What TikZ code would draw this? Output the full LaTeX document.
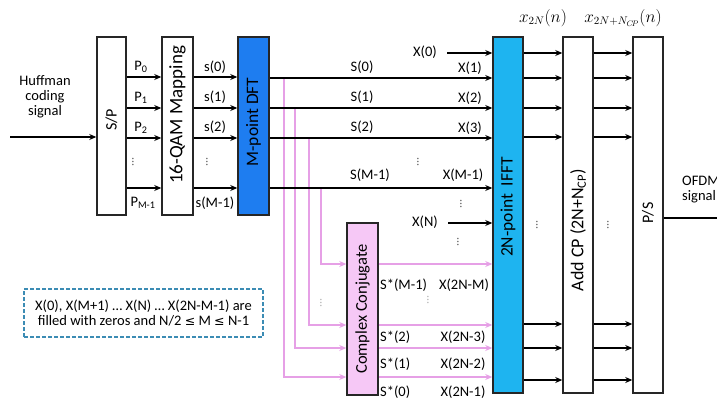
\documentclass[tikz,border=0pt]{standalone}
\usepackage{fontspec}
\setmainfont{Carlito}
\newfontfamily\djv{DejaVu Sans}
\usetikzlibrary{arrows.meta}
\definecolor{dftblue}{RGB}{30,125,240}
\definecolor{ifftblue}{RGB}{30,180,240}
\definecolor{ccpink}{RGB}{246,200,246}
\definecolor{pinkline}{RGB}{230,160,230}
\definecolor{dashblue}{RGB}{60,140,180}
\newcommand{\lesym}{{\djv\fontsize{12.5}{15}\selectfont ≤}}
\begin{document}
\begin{tikzpicture}[x=1pt,y=-1pt,
 box/.style={draw=black!85, line width=1.5pt, fill=white, inner sep=0pt},
 arr/.style={line width=1.6pt, -{Stealth[length=7pt,width=6pt]}},
 parr/.style={pinkline, line width=1.3pt, -{Stealth[length=7pt,width=6pt]}},
 lbl/.style={font=\fontsize{14.5}{15}\selectfont, inner sep=0pt},
 rlbl/.style={font=\fontsize{18}{20}\selectfont, inner sep=0pt, rotate=90},
 vdot/.style={font=\fontsize{12}{12}\selectfont, rotate=90, inner sep=0pt, text=black!65},
 pdot/.style={vdot, text=black!30},
]
\useasboundingbox (0,0) rectangle (717,399);
\clip (0,0) rectangle (717,399);

% pink connector starts
\coordinate (p0) at (284,78);
\coordinate (p1) at (295,108);
\coordinate (p2) at (309,138);
\coordinate (pm) at (321,188);

% boxes
\node[box, minimum width=29pt, minimum height=178pt] (sp) at (111.5,126) {};
\node[box, minimum width=31pt, minimum height=178pt] (qam) at (177.5,126) {};
\node[box, fill=dftblue, minimum width=31pt, minimum height=178pt] (dft) at (253.5,126) {};
\node[box, fill=ifftblue, minimum width=30pt, minimum height=356pt] (ifft) at (508,215) {};
\node[box, minimum width=30pt, minimum height=356pt] (acp) at (578,215) {};
\node[box, minimum width=30pt, minimum height=356pt] (ps) at (648,215) {};
\node[box, fill=ccpink, minimum width=31pt, minimum height=172pt] (cc) at (362.5,309) {};

% box labels
\node[rlbl, font=\fontsize{16}{18}\selectfont] (tsp) at (111.5,120) {S/P};
\node[rlbl, font=\fontsize{19}{20}\selectfont] (tqam) at (177.5,115) {16-QAM Mapping};
\node[rlbl, font=\fontsize{17.5}{20}\selectfont] (tdft) at (253.5,122) {M-point DFT};
\node[rlbl, font=\fontsize{17.5}{20}\selectfont] (tifft) at (508,207) {2N-point\ \ IFFT};
\node[rlbl] (tacp) at (578,230) {Add CP (2N+N\textsubscript{CP})};
\node[rlbl, font=\fontsize{16}{18}\selectfont] (tps) at (648,213) {P/S};
\node[rlbl, font=\fontsize{16.5}{18}\selectfont] (tcc) at (362.5,309) {Complex Conjugate};

% pink lines
\draw[parr] (p0) -- (284,377) -- (cc.west |- 0,377);
\draw[parr] (p1) -- (295,348) -- (cc.west |- 0,348);
\draw[parr] (p2) -- (309,325) -- (cc.west |- 0,325);
\draw[parr] (pm) -- (321,264) -- (cc.west |- 0,264);
\foreach \y in {264,325,348,377} \draw[parr] (cc.east |- 0,\y) -- (ifft.west |- 0,\y);

% input
\coordinate (in) at (10,137);
\draw[arr] (in) -- (sp.west |- in);
\node[lbl, align=center] (huff) at (45,97) {Huffman\\coding\\signal};

% S/P -> QAM -> DFT
\foreach \y in {77,108,138,188} {
  \draw[arr] (sp.east |- 0,\y) -- (qam.west |- 0,\y);
  \draw[arr] (qam.east |- 0,\y) -- (dft.west |- 0,\y);
}
\node[lbl] (lp0) at (141,67) {P\textsubscript{0}};
\node[lbl] (lp1) at (141,98) {P\textsubscript{1}};
\node[lbl] (lp2) at (141,128) {P\textsubscript{2}};
\node[vdot] (dp) at (133,162) {...};
\node[lbl] (lpm) at (143,203) {P\textsubscript{M-1}};
\node[lbl] (ls0) at (215,67) {s(0)};
\node[lbl] (ls1) at (215,97) {s(1)};
\node[lbl] (ls2) at (215,127) {s(2)};
\node[vdot] (ds) at (207,162) {...};
\node[lbl] (lsm) at (215,203) {s(M-1)};

% DFT -> IFFT
\foreach \y in {78,108,138,188} \draw[arr] (dft.east |- 0,\y) -- (ifft.west |- 0,\y);
\node[lbl] (lS0) at (362,67) {S(0)};
\node[lbl] (lS1) at (362,97) {S(1)};
\node[lbl] (lS2) at (362,127) {S(2)};
\node[lbl] (lSm) at (370,175) {S(M-1)};
\node[vdot] (dS) at (418,162) {...};

\coordinate (x0s) at (447,53);
\draw[arr] (x0s) -- (ifft.west |- x0s);
\node[lbl] (lX0) at (425,52) {X(0)};
\node[lbl] (lX1) at (470,68) {X(1)};
\node[lbl] (lX2) at (470,98) {X(2)};
\node[lbl] (lX3) at (470,128) {X(3)};
\node[lbl] (lXm) at (463,175) {X(M-1)};
\node[vdot] (dX1) at (461,204) {...};
\coordinate (xns) at (448,223);
\draw[arr] (xns) -- (ifft.west |- xns);
\node[lbl] (lXN) at (425,222) {X(N)};
\node[vdot] (dX2) at (458,242) {...};

% conjugate side labels
\node[lbl, anchor=west] (lc1) at (380,285) {S*(M-1)};
\node[lbl] (lx1) at (464,285) {X(2N-M)};
\node[pdot] (dc) at (428,300) {...};
\node[pdot] (dpl) at (321,303) {...};
\node[lbl, anchor=west] (lc2) at (380,337) {S*(2)};
\node[lbl] (lx2) at (463,337) {X(2N-3)};
\node[lbl, anchor=west] (lc3) at (380,364) {S*(1)};
\node[lbl] (lx3) at (463,364) {X(2N-2)};
\node[lbl, anchor=west] (lc4) at (380,392) {S*(0)};
\node[lbl] (lx4) at (463,392) {X(2N-1)};

% IFFT -> Add CP -> P/S
\foreach \y in {53,78,108,137,324,348,380} {
  \draw[arr] (ifft.east |- 0,\y) -- (acp.west |- 0,\y);
  \draw[arr] (acp.east |- 0,\y) -- (ps.west |- 0,\y);
}
\node[vdot] (di) at (537,225) {...};
\node[vdot] (da) at (608,225) {...};
\node[lbl, font=\fontsize{16}{18}\selectfont] (lx2n) at (543,18) {$x_{2N}(n)$};
\node[lbl, font=\fontsize{16}{18}\selectfont] (lx2ncp) at (623,18) {$x_{2N+N_{C\!P}}(n)$};

% output
\coordinate (out) at (717,218);
\draw[line width=1.6pt] (ps.east |- out) -- (out);
\node[lbl, align=left, anchor=west] (ofdm) at (682,190) {OFDM\\signal};

% note
\node[lbl, draw=dashblue, dash pattern=on 4pt off 2pt, line width=1.2pt, minimum width=239pt, minimum height=48pt, align=center] (note) at (143.5,313) {X(0), X(M+1) … X(N) … X(2N-M-1) are\\filled with zeros and N/2 \lesym{} M \lesym{} N-1};
\end{tikzpicture}
\end{document}
